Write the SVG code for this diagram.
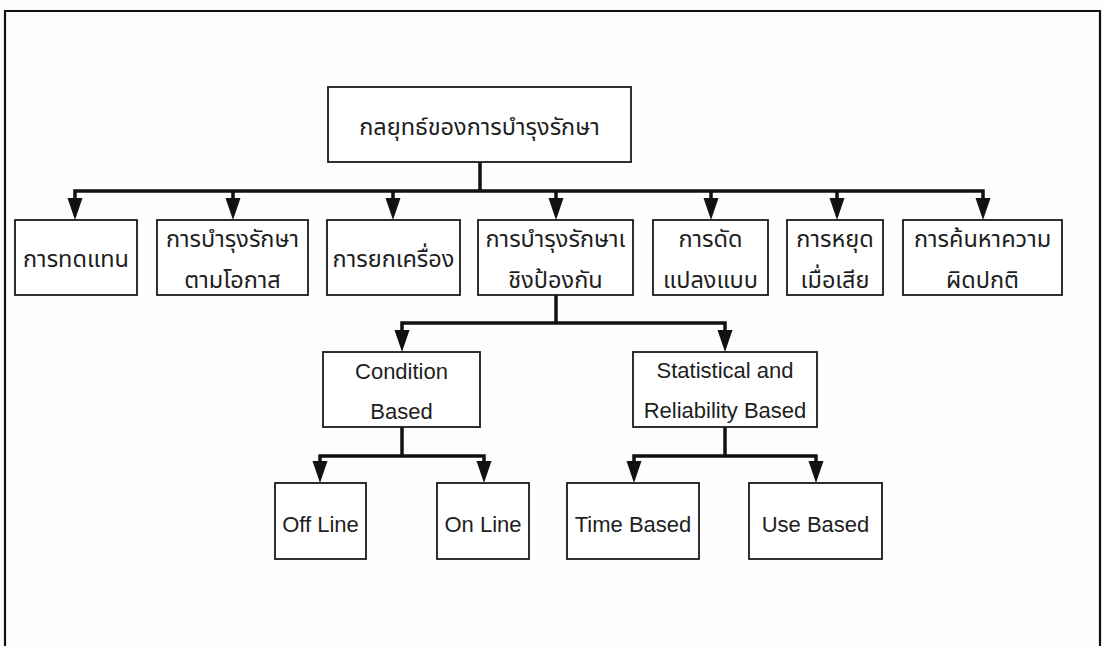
<svg xmlns="http://www.w3.org/2000/svg" xmlns:xlink="http://www.w3.org/1999/xlink" width="1103" height="646" viewBox="0 0 1103 646">
<style>
.box{fill:#fff;stroke:#1a1a1a;stroke-width:1.8}
.th{font-family:"Noto Sans Thai","Noto Sans Thai UI","Tahoma","Liberation Sans",sans-serif;font-size:23.5px;fill:#1e1e1e;text-anchor:middle}
.en{font-family:"Liberation Sans",Arial,sans-serif;font-size:22px;fill:#1e1e1e;text-anchor:middle}
.con{fill:none;stroke:#111;stroke-width:3.5;stroke-linejoin:miter}
.frame{fill:none;stroke:#111;stroke-width:2.2}
</style>
<defs>
<polygon id="ah" points="-7.5,-22 7.5,-22 0,0" fill="#111"/>
</defs>
<rect width="1103" height="646" fill="#fdfdfd"/>
<path class="frame" d="M5,646 V11 H1100 V646"/>

<g id="connectors">
<path class="con" d="M480,162 V191"/>
<path class="con" d="M75,200 V191 H983 V200"/>
<path class="con" d="M233,191 V200 M393,191 V200 M556,191 V200 M711,191 V200 M837,191 V200"/>
<use xlink:href="#ah" x="75" y="220"/>
<use xlink:href="#ah" x="233" y="220"/>
<use xlink:href="#ah" x="393" y="220"/>
<use xlink:href="#ah" x="556" y="220"/>
<use xlink:href="#ah" x="711" y="220"/>
<use xlink:href="#ah" x="837" y="220"/>
<use xlink:href="#ah" x="983" y="220"/>
<path class="con" d="M556,295 V323"/>
<path class="con" d="M402,332 V323 H725 V332"/>
<use xlink:href="#ah" x="402" y="352"/>
<use xlink:href="#ah" x="725" y="352"/>
<path class="con" d="M402,427 V456"/>
<path class="con" d="M320,463 V456 H484 V463"/>
<use xlink:href="#ah" x="320" y="483"/>
<use xlink:href="#ah" x="484" y="483"/>
<path class="con" d="M725,427 V456"/>
<path class="con" d="M634,463 V456 H816 V463"/>
<use xlink:href="#ah" x="634" y="483"/>
<use xlink:href="#ah" x="816" y="483"/>
</g>

<g id="root"><rect class="box" x="328" y="87" width="303" height="75"/><text class="th" x="479.5" y="135">กลยุทธ์ของการบำรุงรักษา</text></g>

<g id="n1"><rect class="box" x="15" y="220" width="122" height="75"/><text class="th" x="76" y="267">การทดแทน</text></g>
<g id="n2"><rect class="box" x="157" y="220" width="151" height="75"/><text class="th" x="232.5" y="247">การบำรุงรักษา</text><text class="th" x="232.5" y="288">ตามโอกาส</text></g>
<g id="n3"><rect class="box" x="327" y="220" width="133" height="75"/><text class="th" x="393.5" y="267">การยกเครื่อง</text></g>
<g id="n4"><rect class="box" x="478" y="220" width="155" height="75"/><text class="th" x="555.5" y="247">การบำรุงรักษาเ</text><text class="th" x="555.5" y="288">ชิงป้องกัน</text></g>
<g id="n5"><rect class="box" x="653" y="220" width="115" height="75"/><text class="th" x="710.5" y="247">การดัด</text><text class="th" x="710.5" y="288">แปลงแบบ</text></g>
<g id="n6"><rect class="box" x="787" y="220" width="96" height="75"/><text class="th" x="835" y="247">การหยุด</text><text class="th" x="835" y="288">เมื่อเสีย</text></g>
<g id="n7"><rect class="box" x="903" y="220" width="159" height="75"/><text class="th" x="982.5" y="247">การค้นหาความ</text><text class="th" x="982.5" y="288">ผิดปกติ</text></g>

<g id="condition"><rect class="box" x="323" y="352" width="157" height="75"/><text class="en" x="401.5" y="379">Condition</text><text class="en" x="401.5" y="419">Based</text></g>
<g id="statistical"><rect class="box" x="633" y="352" width="184" height="75"/><text class="en" x="725" y="378">Statistical and</text><text class="en" x="725" y="418">Reliability Based</text></g>

<g id="offline"><rect class="box" x="275" y="483" width="91" height="76"/><text class="en" x="320.5" y="532">Off Line</text></g>
<g id="online"><rect class="box" x="437" y="483" width="92" height="76"/><text class="en" x="483" y="532">On Line</text></g>
<g id="timebased"><rect class="box" x="567" y="483" width="132" height="76"/><text class="en" x="633" y="532">Time Based</text></g>
<g id="usebased"><rect class="box" x="749" y="483" width="133" height="76"/><text class="en" x="815.5" y="532">Use Based</text></g>
</svg>
